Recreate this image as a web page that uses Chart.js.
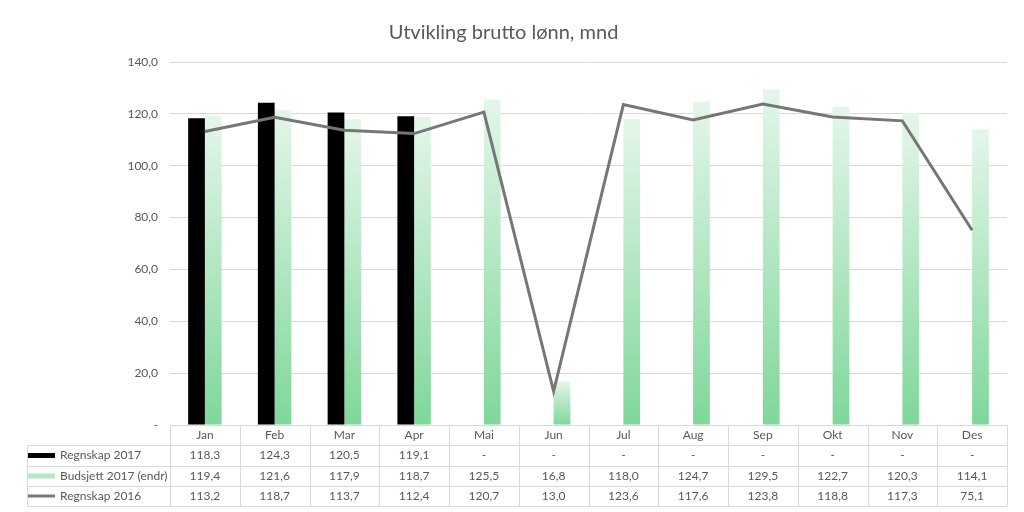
<!DOCTYPE html>
<html>
<head>
<meta charset="utf-8">
<script src="https://cdn.jsdelivr.net/npm/chart.js@4"></script>
<style>
  html, body { margin: 0; padding: 0; background: #fff; }
  #wrap { width: 1024px; height: 512px; }
</style>
</head>
<body>
<div id="wrap"><canvas id="lonnChart" width="1024" height="512"></canvas></div>
<script>
const months = ['Jan', 'Feb', 'Mar', 'Apr', 'Mai', 'Jun', 'Jul', 'Aug', 'Sep', 'Okt', 'Nov', 'Des'];
const seriesNames = ['Regnskap 2017', 'Budsjett 2017 (endr)', 'Regnskap 2016'];
const regnskap2017 = [118.3, 124.3, 120.5, 119.1, null, null, null, null, null, null, null, null];
const budsjett2017 = [119.4, 121.6, 117.9, 118.7, 125.5, 16.8, 118.0, 124.7, 129.5, 122.7, 120.3, 114.1];
const regnskap2016 = [113.2, 118.7, 113.7, 112.4, 120.7, 13.0, 123.6, 117.6, 123.8, 118.8, 117.3, 75.1];
const yTicks = [0, 20, 40, 60, 80, 100, 120, 140];

const fontFam = 'Lato, "Open Sans", sans-serif';
const textColor = '#595959';
const gridColor = '#d9d9d9';

function fmt(v) {
    if (v === null || v === undefined) return '-';
    return v.toFixed(1).replace('.', ',');
}

function greenFill(context) {
    const chart = context.chart;
    const y = chart.scales.y;
    if (!y || context.raw === undefined || context.raw === null) return '#b9e9c6';
    const top = y.getPixelForValue(context.raw);
    const base = y.getPixelForValue(0);
    if (!isFinite(top) || !isFinite(base) || top === base) return '#b9e9c6';
    const g = chart.ctx.createLinearGradient(0, top, 0, base);
    g.addColorStop(0, '#e4f6ea');
    g.addColorStop(1, '#7fd79a');
    return g;
}

// data table drawn under the plot, aligned to the category scale
const dataTable = {
    id: 'dataTable',
    afterDraw(chart) {
        const ctx = chart.ctx;
        const area = chart.chartArea;
        const x = chart.scales.x;
        const colW = (area.right - area.left) / months.length;
        const tableLeft = 27;
        const rowTops = [area.bottom, area.bottom + 20, area.bottom + 41, area.bottom + 61, area.bottom + 81];
        ctx.save();
        ctx.strokeStyle = gridColor;
        ctx.lineWidth = 1;
        ctx.beginPath();
        ctx.moveTo(area.left, rowTops[0] + 0.5);
        ctx.lineTo(area.right, rowTops[0] + 0.5);
        for (let i = 1; i < rowTops.length; i++) {
            ctx.moveTo(tableLeft, Math.round(rowTops[i]) + 0.5);
            ctx.lineTo(area.right, Math.round(rowTops[i]) + 0.5);
        }
        for (let i = 0; i <= months.length; i++) {
            const px = Math.round(area.left + i * colW) + 0.5;
            ctx.moveTo(px, rowTops[0]);
            ctx.lineTo(px, rowTops[4]);
        }
        ctx.moveTo(tableLeft + 0.5, rowTops[1]);
        ctx.lineTo(tableLeft + 0.5, rowTops[4]);
        ctx.stroke();

        ctx.font = '12px ' + fontFam;
        ctx.fillStyle = textColor;
        ctx.textAlign = 'center';
        ctx.textBaseline = 'middle';
        const rows = [regnskap2017, budsjett2017, regnskap2016];
        months.forEach((m, i) => {
            const cx = x.getPixelForValue(i);
            ctx.fillText(m, cx, (rowTops[0] + rowTops[1]) / 2);
            rows.forEach((r, j) => {
                ctx.fillText(fmt(r[i]), cx, (rowTops[j + 1] + rowTops[j + 2]) / 2);
            });
        });

        // legend keys + names in the first column
        ctx.textAlign = 'left';
        for (let j = 0; j < 3; j++) {
            const cy = (rowTops[j + 1] + rowTops[j + 2]) / 2;
            if (j === 0) {
                ctx.fillStyle = '#000';
                ctx.fillRect(28, cy - 2.5, 27, 5);
            } else if (j === 1) {
                ctx.fillStyle = '#b5e8c3';
                ctx.fillRect(28, cy - 2.5, 27, 5);
            } else {
                ctx.strokeStyle = '#767676';
                ctx.lineWidth = 3;
                ctx.beginPath();
                ctx.moveTo(28, cy);
                ctx.lineTo(55, cy);
                ctx.stroke();
            }
            ctx.fillStyle = textColor;
            ctx.fillText(seriesNames[j], 60, cy);
        }
        ctx.restore();
    }
};

const ctxLonn = document.getElementById('lonnChart').getContext('2d');
const lonnChart = new Chart(ctxLonn, {
    data: {
        labels: months,
        datasets: [{
            type: 'line',
            label: seriesNames[2],
            data: regnskap2016,
            borderColor: '#767676',
            borderWidth: 3,
            pointRadius: 0,
            tension: 0,
            order: 0
        }, {
            type: 'bar',
            label: seriesNames[0],
            data: regnskap2017,
            backgroundColor: '#000000',
            categoryPercentage: 0.48,
            barPercentage: 1.0,
            order: 1
        }, {
            type: 'bar',
            label: seriesNames[1],
            data: budsjett2017,
            backgroundColor: greenFill,
            categoryPercentage: 0.48,
            barPercentage: 1.0,
            order: 2
        }]
    },
    options: {
        responsive: false,
        animation: false,
        layout: {
            padding: { left: 0, right: 17, top: 0, bottom: 87 }
        },
        plugins: {
            legend: { display: false },
            tooltip: { enabled: false },
            title: {
                display: true,
                text: 'Utvikling brutto lønn, mnd',
                color: textColor,
                font: { family: fontFam, size: 20, weight: 'normal' },
                padding: { top: 21, bottom: 17 }
            }
        },
        scales: {
            x: {
                display: false
            },
            y: {
                min: 0,
                max: 140,
                afterBuildTicks(axis) {
                    axis.ticks = yTicks.map(v => ({ value: v }));
                },
                afterFit(axis) {
                    axis.width = 170;
                },
                border: { display: false },
                grid: { color: gridColor, drawTicks: false },
                ticks: {
                    color: textColor,
                    padding: 12,
                    font: { family: fontFam, size: 12 },
                    callback: v => v === 0 ? '-' : fmt(v)
                }
            }
        }
    },
    plugins: [dataTable]
});
</script>
</body>
</html>
